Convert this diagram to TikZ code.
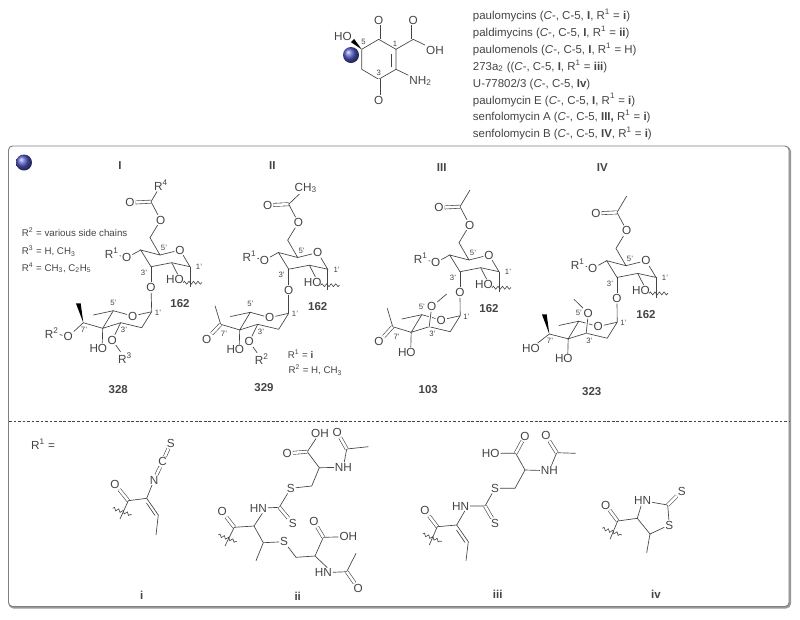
\documentclass[tikz,border=0pt]{standalone}
\usepackage{fontspec}
\setmainfont{Liberation Sans}
\usepackage{tikz}
\usetikzlibrary{positioning}
\usetikzlibrary{decorations.pathmorphing}
\definecolor{inkGray}{HTML}{444444}
\definecolor{ballBlue}{HTML}{5058C4}
\tikzstyle{bond} = [line width=0.5pt,draw=inkGray]
\tikzstyle{bondOver} = [bond,preaction={draw=white,line width=2.4pt}]
\tikzstyle{dbl} = [line width=0.45pt,draw=inkGray,double,double distance=1.9pt]
\tikzstyle{wavy} = [line width=0.45pt,draw=inkGray,decorate,decoration={snake,segment length=3.4pt,amplitude=1.1pt}]
\tikzstyle{wedge} = [fill=black]
\tikzstyle{atom} = [font=\fontsize{8.8}{11}\selectfont,text=inkGray,inner sep=0.6pt]
\tikzstyle{locant} = [font=\fontsize{5.8}{7}\selectfont,text=inkGray,inner sep=0pt]
\tikzstyle{cmpd} = [font=\fontsize{8.6}{10}\selectfont\bfseries,text=inkGray,inner sep=0pt]
\tikzstyle{note} = [font=\fontsize{7.3}{10}\selectfont,text=inkGray,inner sep=0pt,anchor=west]
\tikzstyle{listText} = [font=\fontsize{8.6}{11}\selectfont,text=inkGray,inner sep=0pt,text height=8pt,text depth=2.5pt]
\tikzstyle{ballMark} = [circle,shade,shading=ball,ball color=ballBlue,minimum size=12pt,inner sep=0pt]

% upper sugar, shifted by (#1,#2), names start with #3
\newcommand{\sugarUnit}[3]{
	\begin{scope}[shift={(#1,#2)},name prefix=#3-]
		%Nodes
		\node [atom] (ringO) at (180,250) {O};
		\node [atom] (oSix) at (160.7,220) {O};
		\node [atom] (oAcyl) at (130,202.7) {O};
		\node [atom] (oFour) at (126.7,257.7) {O};
		\node [atom] (rOne) at (111.7,253.3) {R\textsuperscript{1}};
		\node [atom] (oThree) at (151,287.7) {O};
		\node [atom] (hoTwo) at (175,279.5) {HO};
		%Coordinates
		\coordinate (cFive) at (160,255);
		\coordinate (cOne) at (190,266.7);
		\coordinate (cTwo) at (171.7,262.7);
		\coordinate (cThree) at (151,266.7);
		\coordinate (cFour) at (140.7,250);
		\coordinate (cSix) at (150,237.7);
		\coordinate (cAcyl) at (151,201.7);
		\coordinate (cut) at (190,287);
		\coordinate (waveStart) at (183,282.7);
		\coordinate (waveEnd) at (202,282.7);
		%Bonds
		\draw[bond] (cFive) -- (ringO) -- (cOne) -- (cTwo) -- (cThree) -- (cFour) -- (cFive) -- (cSix) -- (oSix) -- (cAcyl);
		\draw[dbl] (cAcyl) -- (oAcyl);
		\draw[bond] (cThree) -- (oThree);
		\draw[bond] (cFour) -- (oFour) -- (rOne);
		\draw[bond] (cTwo) -- ([xshift=2pt]hoTwo.north);
		\draw[bond] (cOne) -- (cut);
		\draw[wavy] (waveStart) -- (waveEnd);
		%TextNodes
		\node [locant] (labelFive) at (164,248.3) {5'};
		\node [locant] (labelThree) at (144,272.7) {3'};
		\node [locant] (labelOne) at (199,267.3) {1'};
		\node [cmpd] (labelCmpd) at (180,304) {162};
	\end{scope}
}

% lower sugar ring
\newcommand{\ringUnit}[3]{
	\begin{scope}[shift={(#1,#2)},name prefix=#3-]
		%Nodes
		\node [atom] (ringO) at (132.7,316) {O};
		\node [atom] (hoFour) at (98.3,348.3) {HO};
		%Coordinates
		\coordinate (cOne) at (151.7,311.7);
		\coordinate (cFive) at (113.3,310.7);
		\coordinate (cFour) at (102.7,328.3);
		\coordinate (cThree) at (120.7,322.7);
		\coordinate (cTwo) at (141.7,327.7);
		\coordinate (meFive) at (93.3,315);
		%Bonds
		\draw[bond] (cOne) -- (ringO) -- (cFive) -- (cFour) -- (cThree) -- (cTwo) -- (cOne);
		\draw[bond] (cFive) -- (meFive);
		\draw[bond] (cFour) -- ([xshift=3pt]hoFour.north);
		%TextNodes
		\node [locant] (labelFive) at (113.3,302.7) {5'};
		\node [locant] (labelThree) at (124,330) {3'};
		\node [locant] (labelOne) at (158,312.7) {1'};
	\end{scope}
}

\begin{document}
\begin{tikzpicture}[x=0.75pt,y=-0.75pt]
	\useasboundingbox (0,0) rectangle (800,619);

	%Frame
	\draw[line width=1.5pt,draw=gray!80,rounded corners=3pt] (9.5,147.5) rectangle (790,607.5);
	\draw[line width=0.7pt,draw=gray,fill=white,rounded corners=3pt] (8.5,146) rectangle (789,606.5);
	\coordinate (dashLeft) at (9,421);
	\coordinate (dashRight) at (789,421);
	\draw[line width=0.5pt,draw=inkGray,dash pattern=on 2pt off 1.4pt] (dashLeft) -- (dashRight);

	%Top molecule
	\node [atom] (topOA) at (378.7,20) {O};
	\node [atom] (topOB) at (378.7,100) {O};
	\node [atom] (topOC) at (413.3,20) {O};
	\node [atom] (topOH) at (435,50) {OH};
	\node [atom] (topNH) at (420.5,81) {NH\textsubscript{2}};
	\node [atom] (topHO) at (343,36) {HO};
	\coordinate (topFive) at (361.7,49.3);
	\coordinate (topSix) at (378.7,39.3);
	\coordinate (topOne) at (396,49.3);
	\coordinate (topTwo) at (396,69.3);
	\coordinate (topThree) at (378.7,79.3);
	\coordinate (topFour) at (361.7,69.3);
	\coordinate (topAcid) at (413.3,39.3);
	\coordinate (innerOne) at (391.7,54);
	\coordinate (innerTwo) at (391.7,67);
	\coordinate (topTip) at (352.5,40.5);
	\draw[bond] (topFive) -- (topSix) -- (topOne) -- (topTwo) -- (topThree) -- (topFour) -- (topFive);
	\draw[bond] (innerOne) -- (innerTwo);
	\draw[dbl] (topSix) -- (topOA);
	\draw[dbl] (topThree) -- (topOB);
	\draw[bond] (topOne) -- (topAcid) -- (topOH);
	\draw[dbl] (topAcid) -- (topOC);
	\draw[bond] (topTwo) -- (topNH);
	\fill[wedge] (topFive) -- ([xshift=-1.2pt,yshift=-1.2pt]topTip) -- ([xshift=1.2pt,yshift=1.2pt]topTip) -- cycle;
	\node [ballMark] (topBall) at (351,55) {};
	\node [locant] (topLabelFive) at (363.5,41.5) {5};
	\node [locant] (topLabelOne) at (395,44) {1};
	\node [locant] (topLabelThree) at (378.7,72.7) {3};

	%List
	\node [listText,anchor=west] (listOne) at (472.7,15.7) {paulomycins (\textit{C}-, C-5, \textbf{I}, R\textsuperscript{1} = \textbf{i})};
	\node [listText,below=1.8pt of listOne.south west,anchor=north west] (listTwo) {paldimycins (\textit{C}-, C-5, \textbf{I}, R\textsuperscript{1} = \textbf{ii})};
	\node [listText,below=1.8pt of listTwo.south west,anchor=north west] (listThree) {paulomenols (\textit{C}-, C-5, \textbf{I}, R\textsuperscript{1} = H)};
	\node [listText,below=1.8pt of listThree.south west,anchor=north west] (listFour) {273a\textsubscript{2} ((\textit{C}-, C-5, \textbf{I}, R\textsuperscript{1} = \textbf{iii})};
	\node [listText,below=1.8pt of listFour.south west,anchor=north west] (listFive) {U-77802/3 (\textit{C}-, C-5, \textbf{Iv})};
	\node [listText,below=1.8pt of listFive.south west,anchor=north west] (listSix) {paulomycin E (\textit{C}-, C-5, \textbf{I}, R\textsuperscript{1} = \textbf{i})};
	\node [listText,below=1.8pt of listSix.south west,anchor=north west] (listSeven) {senfolomycin A (\textit{C}-, C-5, \textbf{III,} R\textsuperscript{1} = \textbf{i})};
	\node [listText,below=1.8pt of listSeven.south west,anchor=north west] (listEight) {senfolomycin B (\textit{C}-, C-5, \textbf{IV}, R\textsuperscript{1} = \textbf{i})};

	%Ball in frame
	\node [ballMark] (frameBall) at (24,162.5) {};

	%Structure I
	\sugarUnit{0}{0}{sugOne}
	\ringUnit{0}{0}{ringOne}
	\node [cmpd] (titleOne) at (120,166) {I};
	\node [atom] (rFour) at (161,185) {R\textsuperscript{4}};
	\draw[bond] (sugOne-cAcyl) -- (rFour);
	\draw[bond] (sugOne-oThree) -- (ringOne-cOne);
	\node [atom] (oSevenOne) at (68.3,336.7) {O};
	\node [atom] (rTwoOne) at (51.7,332.7) {R\textsuperscript{2}};
	\node [atom] (oRingOne) at (112.3,340) {O};
	\node [atom] (rThreeOne) at (125,358.3) {R\textsuperscript{3}};
	\coordinate (cSevenOne) at (83.3,322.7);
	\coordinate (tipOne) at (78.3,303.3);
	\draw[bond] (ringOne-cFour) -- (cSevenOne) -- (oSevenOne) -- (rTwoOne);
	\fill[wedge] (cSevenOne) -- ([xshift=-1.8pt]tipOne) -- ([xshift=1.8pt]tipOne) -- cycle;
	\draw[bond] (ringOne-cThree) -- (oRingOne) -- (rThreeOne);
	\node [locant] (sevenOne) at (84,330) {7'};
	\node [cmpd] (cmpdOne) at (118.3,389.3) {328};
	\node [note] (noteOne) at (21.7,232.3) {R\textsuperscript{2} = various side chains};
	\node [note] (noteTwo) at (21.7,251) {R\textsuperscript{3} = H, CH\textsubscript{3}};
	\node [note] (noteThree) at (21.7,267.7) {R\textsuperscript{4} = CH\textsubscript{3}, C\textsubscript{2}H\textsubscript{5}};

	%Structure II
	\sugarUnit{137.7}{2.5}{sugTwo}
	\ringUnit{137}{1.6}{ringTwo}
	\node [cmpd] (titleTwo) at (272.3,166) {II};
	\node [atom,anchor=west] (meTwo) at (293.5,188) {CH\textsubscript{3}};
	\draw[bond] (sugTwo-cAcyl) -- (meTwo);
	\draw[bond] (sugTwo-oThree) -- (ringTwo-cOne);
	\node [atom] (oKetoTwo) at (206.7,339) {O};
	\node [atom] (oRingTwo) at (249.3,341.7) {O};
	\node [atom] (rTwoTwo) at (261.7,359.3) {R\textsuperscript{2}};
	\coordinate (cSevenTwo) at (220.7,324.3);
	\coordinate (meKetoTwo) at (215,305.7);
	\draw[bond] (ringTwo-cFour) -- (cSevenTwo) -- (meKetoTwo);
	\draw[dbl] (cSevenTwo) -- (oKetoTwo);
	\draw[bond] (ringTwo-cThree) -- (oRingTwo) -- (rTwoTwo);
	\node [locant] (sevenTwo) at (224,334.3) {7'};
	\node [cmpd] (cmpdTwo) at (264,387.7) {329};
	\node [note] (noteFour) at (287.7,354.3) {R\textsuperscript{1} = \textbf{i}};
	\node [note] (noteFive) at (288.3,370) {R\textsuperscript{2} = H, CH\textsubscript{3}};

	%Structure III
	\sugarUnit{309}{5}{sugThree}
	\ringUnit{308.5}{4}{ringThree}
	\node [cmpd] (titleThree) at (441.7,167.3) {III};
	\coordinate (meThree) at (470,190);
	\draw[bond] (sugThree-cAcyl) -- (meThree);
	\draw[bond] (sugThree-oThree) -- (ringThree-cOne);
	\node [atom] (oKetoThree) at (379,341.7) {O};
	\node [atom] (oAxialThree) at (431.7,306.7) {O};
	\coordinate (cSevenThree) at (392.7,326.7);
	\coordinate (meKetoThree) at (387.3,308.3);
	\coordinate (meAxialThree) at (446.7,294);
	\draw[bond] (ringThree-cFour) -- (cSevenThree) -- (meKetoThree);
	\draw[dbl] (cSevenThree) -- (oKetoThree);
	\draw[bondOver] (ringThree-cThree) -- (oAxialThree);
	\draw[bond] (oAxialThree) -- (meAxialThree);
	\node [locant] (sevenThree) at (396.7,336.7) {7'};
	\node [cmpd] (cmpdThree) at (428.3,389.3) {103};

	%Structure IV
	\sugarUnit{466}{10.7}{sugFour}
	\ringUnit{465.5}{10.5}{ringFour}
	\node [cmpd] (titleFour) at (602.3,167.3) {IV};
	\coordinate (meFour) at (626.7,196);
	\draw[bond] (sugFour-cAcyl) -- (meFour);
	\draw[bond] (sugFour-oThree) -- (ringFour-cOne);
	\node [atom] (hoSevenFour) at (531,348.3) {HO};
	\node [atom] (oAxialFour) at (588.3,313.3) {O};
	\coordinate (cSevenFour) at (549.3,334);
	\coordinate (tipFour) at (544.3,314.3);
	\coordinate (meAxialFour) at (574,299.3);
	\draw[bond] (ringFour-cFour) -- (cSevenFour) -- (hoSevenFour);
	\fill[wedge] (cSevenFour) -- ([xshift=-1.8pt]tipFour) -- ([xshift=1.8pt]tipFour) -- cycle;
	\draw[bondOver] (ringFour-cThree) -- (oAxialFour);
	\draw[bond] (oAxialFour) -- (meAxialFour);
	\node [locant] (sevenFour) at (550,341) {7'};
	\node [cmpd] (cmpdFour) at (591.7,391.7) {323};

	%R1 groups
	\node [atom,anchor=west] (rOneEquals) at (30,444) {R\textsuperscript{1} =};

	%Group i
	\node [atom] (iO) at (115,484.3) {O};
	\node [atom] (iN) at (154,480) {N};
	\node [atom] (iC) at (162.7,461.7) {C};
	\node [atom] (iS) at (170.7,443.3) {S};
	\coordinate (iAcyl) at (128.3,500.7);
	\coordinate (iAlpha) at (146.7,498.3);
	\coordinate (iBeta) at (158.3,515);
	\coordinate (iMe) at (156,535);
	\coordinate (iInnerA) at (146.5,503);
	\coordinate (iInnerB) at (155,515.5);
	\coordinate (iCut) at (120,519);
	\coordinate (iWaveA) at (112.7,508.3);
	\coordinate (iWaveB) at (131.7,515);
	\draw[dbl] (iAcyl) -- (iO);
	\draw[bond] (iCut) -- (iAcyl) -- (iAlpha) -- (iN);
	\draw[dbl] (iN) -- (iC);
	\draw[dbl] (iC) -- (iS);
	\draw[bond] (iAlpha) -- (iBeta) -- (iMe);
	\draw[bond] (iInnerA) -- (iInnerB);
	\draw[wavy] (iWaveA) -- (iWaveB);
	\node [cmpd] (iLabel) at (141.7,595) {i};

	%Group ii
	\node [atom] (iiO) at (222.3,511.7) {O};
	\node [atom] (iiHN) at (258.3,508.3) {HN};
	\node [atom] (iiSb) at (292.7,523.3) {S};
	\node [atom] (iiSa) at (290.7,488.3) {S};
	\node [atom] (iiNHa) at (343.3,467.3) {NH};
	\node [atom] (iiOa) at (287.3,453.3) {O};
	\node [atom] (iiOHa) at (320,433.3) {OH};
	\node [atom] (iiOAa) at (337.3,432.3) {O};
	\node [atom] (iiSc) at (284,541.7) {S};
	\node [atom] (iiOb) at (314,521.7) {O};
	\node [atom] (iiOHb) at (348.3,536.7) {OH};
	\node [atom] (iiHNb) at (323.3,572.7) {HN};
	\node [atom] (iiOAb) at (358.3,588.3) {O};
	\coordinate (iiAcyl) at (234.3,527.3);
	\coordinate (iiAlpha) at (254,526);
	\coordinate (iiThio) at (279.3,507.3);
	\coordinate (iiCHtwoA) at (311.7,486);
	\coordinate (iiCHa) at (319.3,467.7);
	\coordinate (iiAcidA) at (307.3,451.7);
	\coordinate (iiAmA) at (346.7,449);
	\coordinate (iiMeA) at (368.3,446.7);
	\coordinate (iiBeta) at (263.3,542.7);
	\coordinate (iiMe) at (256,560.7);
	\coordinate (iiCHtwoB) at (296,557.3);
	\coordinate (iiCHb) at (315,556);
	\coordinate (iiAcidB) at (323.3,537.3);
	\coordinate (iiAmB) at (346.7,571.7);
	\coordinate (iiMeB) at (356,553.3);
	\coordinate (iiCut) at (225,546);
	\coordinate (iiWaveA) at (218.3,535);
	\coordinate (iiWaveB) at (236.7,541.7);
	\draw[dbl] (iiAcyl) -- (iiO);
	\draw[bond] (iiCut) -- (iiAcyl) -- (iiAlpha) -- ([xshift=3pt]iiHN.south);
	\draw[bond] (iiHN) -- (iiThio) -- (iiSa) -- (iiCHtwoA) -- (iiCHa) -- (iiNHa) -- (iiAmA) -- (iiMeA);
	\draw[dbl] (iiThio) -- (iiSb);
	\draw[bond] (iiCHa) -- (iiAcidA) -- ([xshift=-3pt]iiOHa.south);
	\draw[dbl] (iiAcidA) -- (iiOa);
	\draw[dbl] (iiAmA) -- (iiOAa);
	\draw[bond] (iiAlpha) -- (iiBeta) -- (iiMe);
	\draw[bond] (iiBeta) -- (iiSc) -- (iiCHtwoB) -- (iiCHb) -- (iiAcidB) -- (iiOHb);
	\draw[dbl] (iiAcidB) -- (iiOb);
	\draw[bond] (iiCHb) -- ([xshift=3pt]iiHNb.north);
	\draw[bond] (iiHNb) -- (iiAmB) -- (iiMeB);
	\draw[dbl] (iiAmB) -- (iiOAb);
	\draw[wavy] (iiWaveA) -- (iiWaveB);
	\node [cmpd] (iiLabel) at (297.7,596.7) {ii};

	%Group iii
	\node [atom] (iiiO) at (425,510.7) {O};
	\node [atom] (iiiHN) at (460.7,506) {HN};
	\node [atom] (iiiSb) at (495,523.3) {S};
	\node [atom] (iiiSa) at (495,488.3) {S};
	\node [atom] (iiiNH) at (549.3,470.7) {NH};
	\node [atom] (iiiOa) at (525,436) {O};
	\node [atom] (iiiHO) at (490.7,453.3) {HO};
	\node [atom] (iiiOAm) at (546,435.7) {O};
	\coordinate (iiiAcyl) at (437.3,526.7);
	\coordinate (iiiAlpha) at (456.7,525);
	\coordinate (iiiBeta) at (468.3,541.7);
	\coordinate (iiiMe) at (466,560.7);
	\coordinate (iiiInnerA) at (456.5,530);
	\coordinate (iiiInnerB) at (465,542.5);
	\coordinate (iiiThio) at (485,506);
	\coordinate (iiiCHtwo) at (515,488.3);
	\coordinate (iiiCH) at (525,470);
	\coordinate (iiiAcid) at (515.7,453.3);
	\coordinate (iiiAm) at (556.7,452.7);
	\coordinate (iiiMeAm) at (575.7,453.3);
	\coordinate (iiiCut) at (429.3,545);
	\coordinate (iiiWaveA) at (422.7,534);
	\coordinate (iiiWaveB) at (441.7,541.7);
	\draw[dbl] (iiiAcyl) -- (iiiO);
	\draw[bond] (iiiCut) -- (iiiAcyl) -- (iiiAlpha) -- ([xshift=3pt]iiiHN.south);
	\draw[bond] (iiiHN) -- (iiiThio) -- (iiiSa) -- (iiiCHtwo) -- (iiiCH) -- (iiiNH) -- (iiiAm) -- (iiiMeAm);
	\draw[dbl] (iiiThio) -- (iiiSb);
	\draw[bond] (iiiCH) -- (iiiAcid) -- (iiiHO);
	\draw[dbl] (iiiAcid) -- (iiiOa);
	\draw[dbl] (iiiAm) -- (iiiOAm);
	\draw[bond] (iiiAlpha) -- (iiiBeta) -- (iiiMe);
	\draw[bond] (iiiInnerA) -- (iiiInnerB);
	\draw[wavy] (iiiWaveA) -- (iiiWaveB);
	\node [cmpd] (iiiLabel) at (497.7,594.3) {iii};

	%Group iv
	\node [atom] (ivO) at (605.7,505) {O};
	\node [atom] (ivHN) at (642.7,500.7) {HN};
	\node [atom] (ivSb) at (681.7,491) {S};
	\node [atom] (ivSa) at (669.3,525) {S};
	\coordinate (ivAcyl) at (617.7,521);
	\coordinate (ivFour) at (637.3,518.3);
	\coordinate (ivTwo) at (667.7,505);
	\coordinate (ivFive) at (650,534);
	\coordinate (ivMe) at (646.7,552.7);
	\coordinate (ivCut) at (610,539.3);
	\coordinate (ivWaveA) at (602.3,528.3);
	\coordinate (ivWaveB) at (621.7,535);
	\draw[dbl] (ivAcyl) -- (ivO);
	\draw[bond] (ivCut) -- (ivAcyl) -- (ivFour) -- (ivHN) -- (ivTwo) -- (ivSa) -- (ivFive) -- (ivFour);
	\draw[dbl] (ivTwo) -- (ivSb);
	\draw[bond] (ivFive) -- (ivMe);
	\draw[wavy] (ivWaveA) -- (ivWaveB);
	\node [cmpd] (ivLabel) at (656,594.3) {iv};
\end{tikzpicture}
\end{document}
